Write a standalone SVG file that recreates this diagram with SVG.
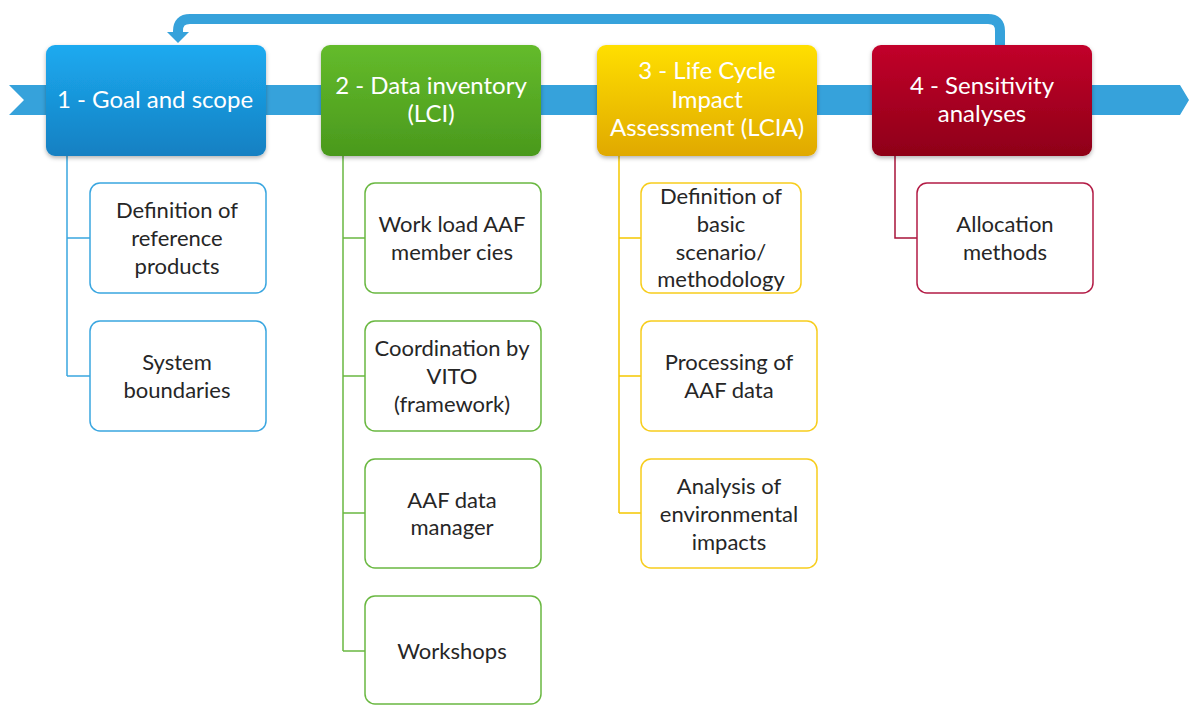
<svg xmlns="http://www.w3.org/2000/svg" width="1189" height="705" viewBox="0 0 1189 705">
<defs>
<linearGradient id="gBlue" x1="0" y1="0" x2="0" y2="1"><stop offset="0" stop-color="#1caaf0"/><stop offset="1" stop-color="#1580c2"/></linearGradient>
<linearGradient id="gGreen" x1="0" y1="0" x2="0" y2="1"><stop offset="0" stop-color="#64bb2b"/><stop offset="1" stop-color="#4a991d"/></linearGradient>
<linearGradient id="gYellow" x1="0" y1="0" x2="0" y2="1"><stop offset="0" stop-color="#ffdf00"/><stop offset="1" stop-color="#e0a900"/></linearGradient>
<linearGradient id="gRed" x1="0" y1="0" x2="0" y2="1"><stop offset="0" stop-color="#c2002a"/><stop offset="1" stop-color="#8e0018"/></linearGradient>
<filter id="sh" x="-10%" y="-10%" width="120%" height="130%"><feDropShadow dx="0" dy="2" stdDeviation="2" flood-color="#000" flood-opacity="0.3"/></filter>
</defs>
<style>
.title{font-family:Lato,"Open Sans","Liberation Sans",sans-serif;font-size:24px;fill:#fff;text-anchor:middle}
.sub{font-family:Lato,"Open Sans","Liberation Sans",sans-serif;font-size:22px;fill:#262626;text-anchor:middle}
.cb{fill:#fff;stroke:#3aa6e0;stroke-width:1.5}
.cg{fill:#fff;stroke:#6ab841;stroke-width:1.5}
.cy{fill:#fff;stroke:#f7cd1c;stroke-width:1.5}
.cr{fill:#fff;stroke:#b31b45;stroke-width:1.5}
.lb{stroke:#3aa6e0;stroke-width:1.5;fill:none}
.lg{stroke:#6ab841;stroke-width:1.5;fill:none}
.ly{stroke:#f5c800;stroke-width:1.5;fill:none}
.lr{stroke:#a8133a;stroke-width:1.5;fill:none}
</style>
<rect width="1189" height="705" fill="#fff"/>
<g id="band">
<polygon points="9,85 1180,85 1189,100 1180,115 9,115 24,100" fill="#36a2db"/>
</g>
<g id="connectors">
<path d="M1000,45 V31 Q1000,19 988,19 H190 Q178,19 178,31 V33" fill="none" stroke="#36a2db" stroke-width="10"/>
<polygon points="167,32 189,32 178,43" fill="#36a2db"/>
<path class="lb" d="M67,156 V376 M67,238 H90 M67,376 H90"/>
<path class="lg" d="M343,156 V651 M343,238 H365 M343,376 H365 M343,513 H365 M343,651 H365"/>
<path class="ly" d="M619,156 V513 M619,238 H641 M619,376 H641 M619,513 H641"/>
<path class="lr" d="M895,156 V238 H917"/>
</g>
<g id="n1" filter="url(#sh)"><rect x="46" y="45" width="220" height="111" rx="9" fill="url(#gBlue)"/></g>
<g id="n1t"><text class="title" x="155" y="108">1 - Goal and scope</text></g>
<g id="n2" filter="url(#sh)"><rect x="321" y="45" width="220" height="111" rx="9" fill="url(#gGreen)"/></g>
<g id="n2t"><text class="title" x="431" y="94">2 - Data inventory</text><text class="title" x="431" y="122">(LCI)</text></g>
<g id="n3" filter="url(#sh)"><rect x="597" y="45" width="220" height="111" rx="9" fill="url(#gYellow)"/></g>
<g id="n3t"><text class="title" x="707" y="79">3 - Life Cycle</text><text class="title" x="707" y="108">Impact</text><text class="title" x="707" y="136">Assessment (LCIA)</text></g>
<g id="n4" filter="url(#sh)"><rect x="872" y="45" width="220" height="111" rx="9" fill="url(#gRed)"/></g>
<g id="n4t"><text class="title" x="982" y="94">4 - Sensitivity</text><text class="title" x="982" y="122">analyses</text></g>

<g id="c1a"><rect class="cb" x="90" y="183" width="176" height="110" rx="10"/><text class="sub" x="177" y="218">Definition of</text><text class="sub" x="177" y="246">reference</text><text class="sub" x="177" y="274">products</text></g>
<g id="c1b"><rect class="cb" x="90" y="321" width="176" height="110" rx="10"/><text class="sub" x="177" y="370">System</text><text class="sub" x="177" y="398">boundaries</text></g>

<g id="c2a"><rect class="cg" x="365" y="183" width="176" height="110" rx="10"/><text class="sub" x="452" y="232">Work load AAF</text><text class="sub" x="452" y="260">member cies</text></g>
<g id="c2b"><rect class="cg" x="365" y="321" width="176" height="110" rx="10"/><text class="sub" x="452" y="356">Coordination by</text><text class="sub" x="452" y="384">VITO</text><text class="sub" x="452" y="412">(framework)</text></g>
<g id="c2c"><rect class="cg" x="365" y="459" width="176" height="109" rx="10"/><text class="sub" x="452" y="508">AAF data</text><text class="sub" x="452" y="535">manager</text></g>
<g id="c2d"><rect class="cg" x="365" y="596" width="176" height="108" rx="10"/><text class="sub" x="452" y="659">Workshops</text></g>

<g id="c3a"><rect class="cy" x="641" y="183" width="160" height="110" rx="10"/><text class="sub" x="721" y="204">Definition of</text><text class="sub" x="721" y="232">basic</text><text class="sub" x="721" y="260">scenario/</text><text class="sub" x="721" y="287">methodology</text></g>
<g id="c3b"><rect class="cy" x="641" y="321" width="176" height="110" rx="10"/><text class="sub" x="729" y="370">Processing of</text><text class="sub" x="729" y="398">AAF data</text></g>
<g id="c3c"><rect class="cy" x="641" y="459" width="176" height="109" rx="10"/><text class="sub" x="729" y="494">Analysis of</text><text class="sub" x="729" y="522">environmental</text><text class="sub" x="729" y="550">impacts</text></g>

<g id="c4a"><rect class="cr" x="917" y="183" width="176" height="110" rx="10"/><text class="sub" x="1005" y="232">Allocation</text><text class="sub" x="1005" y="260">methods</text></g>
</svg>
